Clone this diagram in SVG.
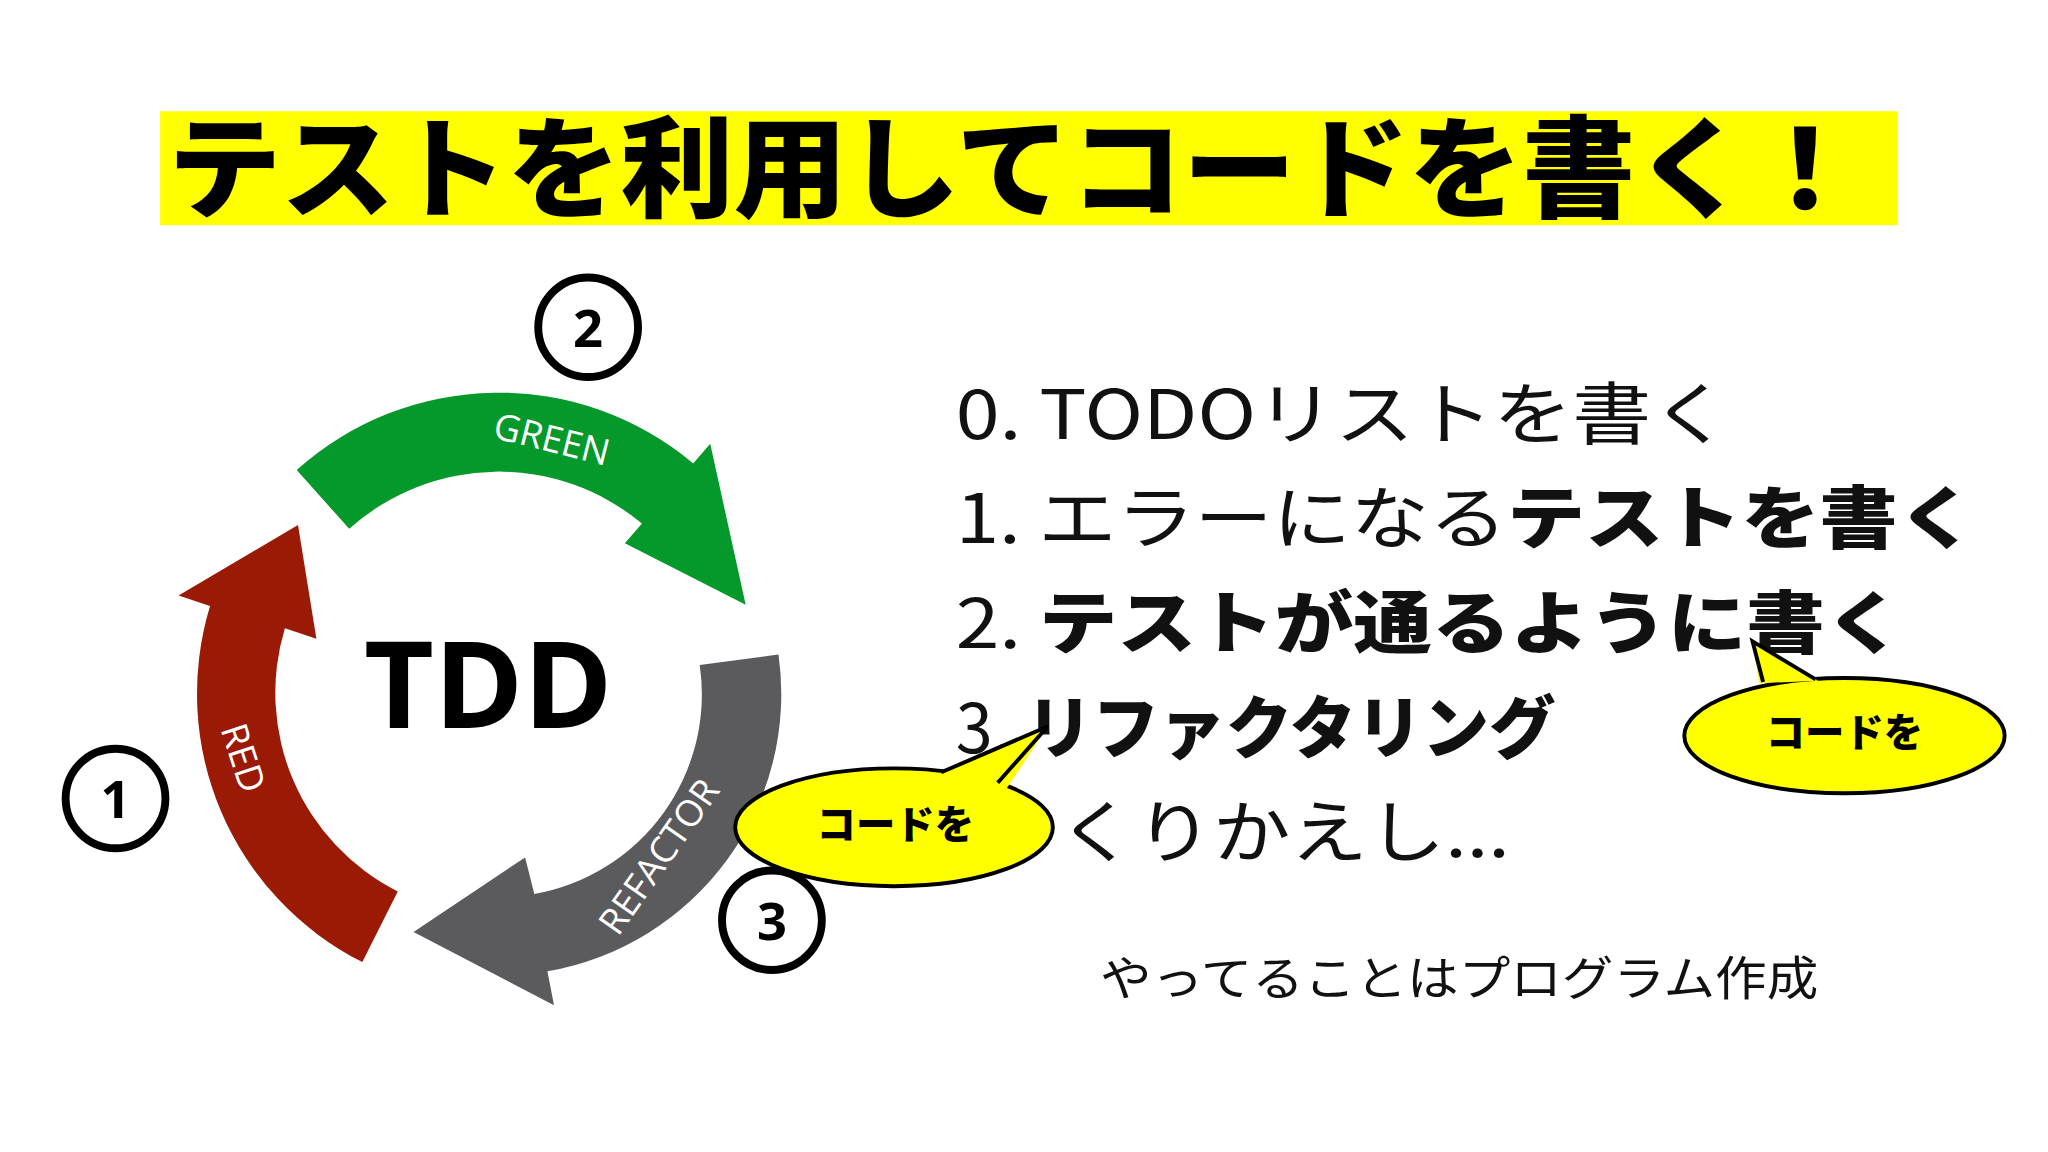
<svg xmlns="http://www.w3.org/2000/svg" width="2048" height="1152" viewBox="0 0 2048 1152">
<style>
.jp{font-family:"Noto Sans CJK JP","Noto Sans",sans-serif}
.b{font-weight:900}
.lst{font-size:52px;fill:#111}
.lbl{font-family:"Open Sans","Noto Sans",sans-serif;fill:#fff;font-size:28px}
.num{fill:#fff;stroke:#000;stroke-width:6}
.numt{font-family:"Noto Sans",sans-serif;font-weight:700;font-size:40px;text-anchor:middle}
.call{fill:#ffff00;stroke:#000;stroke-width:3}
</style>
<rect width="2048" height="1152" fill="#fff"/>
<g transform="scale(1.3128 1.309)">
<g id="title">
<rect x="122" y="85" width="1323" height="87" fill="#ffff00"/>
<text class="jp b" x="128" y="160" font-size="84" textLength="1290" lengthAdjust="spacingAndGlyphs">テストを利用してコードを書く！</text>
</g>
<g id="connectors">
<path d="M226,359 A230,230 0 0 1 528,354 L541,339 L568,462 L476,415 L489,400 A170,170 0 0 0 266,404 Z" fill="#05982b"/>
<path d="M303,681 A170,170 0 0 1 217,480 L241,488 L227,401 L136,455 L160,463 A230,230 0 0 0 276,735 Z" fill="#9a1a05"/>
<path d="M593,500 A215,215 0 0 1 417,742 L422,768 L315,712 L400,655 L407,683 A155,155 0 0 0 533,508 Z" fill="#5b5a5c"/>
</g>
<g id="green"><text class="lbl" transform="translate(418,345) rotate(14)" text-anchor="middle">GREEN</text></g>
<g id="red"><text class="lbl" transform="translate(176,582) rotate(72)" text-anchor="middle">RED</text></g>
<g id="refactor"><text class="lbl" transform="translate(510,660) rotate(-55)" text-anchor="middle">REFACTOR</text></g>
<g id="tdd"><text x="372" y="556" font-family="Open Sans,Noto Sans,sans-serif" font-weight="700" font-size="92" text-anchor="middle">TDD</text></g>
<g id="n1"><circle class="num" cx="88" cy="610" r="38"/><text class="numt" x="88" y="625">1</text></g>
<g id="n2"><circle class="num" cx="448" cy="250" r="38"/><text class="numt" x="448" y="265">2</text></g>
<g id="n3"><circle class="num" cx="588" cy="703" r="38"/><text class="numt" x="588" y="718">3</text></g>
<g id="list" class="jp lst">
<text x="728" y="335" textLength="590" lengthAdjust="spacingAndGlyphs">0. TODOリストを書く</text>
<text x="728" y="415" textLength="777" lengthAdjust="spacingAndGlyphs">1. エラーになる<tspan class="b">テストを書く</tspan></text>
<text x="728" y="495" textLength="722" lengthAdjust="spacingAndGlyphs">2. <tspan class="b">テストが通るように書く</tspan></text>
<text x="728" y="575" textLength="457" lengthAdjust="spacingAndGlyphs">3. <tspan class="b">リファクタリング</tspan></text>
<text x="806" y="655" textLength="344" lengthAdjust="spacingAndGlyphs">くりかえし...</text>
</g>
<g id="callout1">
<ellipse class="call" cx="681" cy="632" rx="121" ry="45"/>
<path d="M715,592 L798,555 L765,605 Z" fill="#ffff00"/>
<path d="M717,590 L798,555 L760,598" fill="none" stroke="#000" stroke-width="3"/>
<text class="jp b" x="682" y="641" font-size="30" text-anchor="middle">コードを</text>
</g>
<g id="callout2">
<ellipse class="call" cx="1405" cy="562" rx="122" ry="44"/>
<path d="M1340,522 L1335,490 L1385,520 Z" fill="#ffff00"/>
<path d="M1343,521 L1335,490 L1383,519" fill="none" stroke="#000" stroke-width="3"/>
<text class="jp b" x="1405" y="571" font-size="30" text-anchor="middle">コードを</text>
</g>
<g id="note"><text class="jp" x="838" y="760" font-size="36" fill="#111" textLength="547" lengthAdjust="spacingAndGlyphs">やってることはプログラム作成</text></g>
</g>
</svg>
